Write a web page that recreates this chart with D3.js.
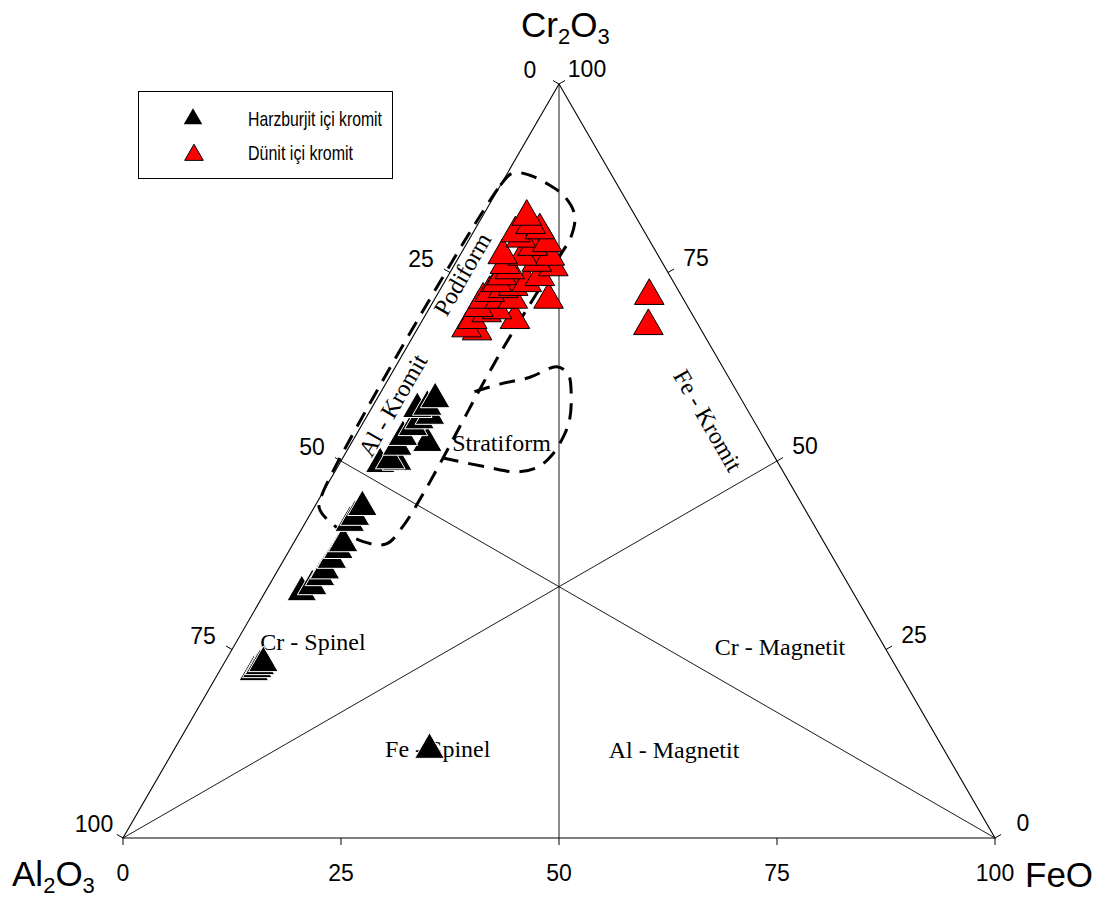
<!DOCTYPE html>
<html>
<head>
<meta charset="utf-8">
<script src="https://cdnjs.cloudflare.com/ajax/libs/d3/7.8.5/d3.min.js"></script>
<style>
body { margin: 0; background: #fff; }
svg { display: block; }
</style>
</head>
<body>
<script>
// every composition is [Cr2O3, Al2O3, FeO] in %
const tickValues = [0, 25, 50, 75, 100];
const tickLabels = ["0", "25", "50", "75", "100"];

const seriesNames = ["Harzburjit içi kromit", "Dünit içi kromit"];

const harzburjitPoints = [
    [58.2, 35.1, 6.7], [57.2, 36.5, 6.3], [56.9, 37.8, 5.3], [55.4, 38.3, 6.3],
    [54.5, 39.5, 6.0], [52.4, 38.9, 8.7], [53.2, 41.3, 5.5], [51.9, 42.6, 5.5],
    [50.1, 44.3, 5.6], [49.6, 45.7, 4.7], [49.9, 43.6, 6.5], [56.0, 36.8, 7.2],
    [43.9, 50.6, 5.5], [42.6, 52.1, 5.3], [41.8, 53.1, 5.1], [39.1, 55.2, 5.7],
    [38.2, 56.2, 5.6], [36.9, 57.6, 5.5], [35.5, 59.1, 5.4], [34.6, 60.1, 5.3],
    [33.4, 61.6, 5.0], [32.6, 63.2, 4.2],
    [22.0, 74.0, 4.0], [22.4, 73.4, 4.2], [22.8, 72.9, 4.3], [23.2, 72.3, 4.5],
    [11.7, 59.0, 29.3]
];

const dunitPoints = [
    [82.4, 12.5, 5.1], [80.2, 14.9, 4.9], [77.3, 17.8, 4.9], [80.6, 11.9, 7.5],
    [78.9, 11.9, 9.2], [77.1, 12.5, 10.4], [78.4, 13.8, 7.8], [77.1, 15.6, 7.3],
    [75.3, 18.0, 6.7], [73.6, 20.3, 6.1], [72.3, 21.8, 5.9], [71.4, 23.0, 5.6],
    [70.3, 24.1, 5.6], [68.7, 25.6, 5.7], [67.6, 26.8, 5.6], [67.2, 25.8, 7.0],
    [73.1, 18.7, 8.2], [73.6, 16.9, 9.5], [74.4, 15.0, 10.6], [71.4, 21.1, 7.5],
    [71.4, 19.6, 9.0], [71.4, 15.5, 13.1], [68.7, 20.7, 10.6], [69.6, 23.5, 6.9],
    [70.0, 22.1, 7.9], [75.7, 12.8, 11.5], [76.3, 14.4, 9.3], [79.5, 14.6, 5.9],
    [76.0, 18.2, 5.8], [74.5, 19.3, 6.2], [72.8, 20.0, 7.2], [81.3, 12.6, 6.1],
    [71.9, 3.7, 24.4], [67.9, 5.8, 26.3]
];

// field boundaries (dashed)
const podiformField = [
    [45.9, 54.1, 0], [86.6, 13.4, 0], [88.2, 11.2, 0.6], [87.9, 9.4, 2.7],
    [86.7, 7.9, 5.4], [85.0, 6.8, 8.2], [82.6, 6.9, 10.5], [79.8, 8.7, 11.5],
    [77.2, 11.3, 11.5], [63.7, 25.2, 11.1], [45.8, 42.6, 11.6], [41.1, 47.5, 11.4],
    [39.0, 50.3, 10.7], [39.3, 52.8, 7.9], [41.5, 55.1, 3.4], [43.8, 55.6, 0.6]
];

const stratiformField = [
    [59.2, 30.1, 10.7], [60.2, 26.7, 13.1], [61.1, 22.8, 16.1], [62.5, 19.0, 18.5],
    [61.5, 18.2, 20.3], [58.8, 19.2, 22.0], [55.4, 21.1, 23.5], [53.1, 23.0, 23.9],
    [50.8, 25.4, 23.8], [49.2, 27.8, 23.0], [48.5, 30.4, 21.0], [49.2, 33.7, 17.1],
    [50.4, 38.1, 11.5]
];

const fieldNames = ["Cr - Spinel", "Cr - Magnetit", "Fe - Spinel", "Al - Magnetit",
    "Stratiform", "Podiform", "Al - Kromit", "Fe - Kromit"];

const sansFont = "Arial, 'Liberation Sans', sans-serif";
const serifFont = "'Times New Roman', 'Liberation Serif', serif";

const svg = d3.select("body")
    .append("svg")
    .attr("width", 1104)
    .attr("height", 905);

// cartesian scales behind the ternary
const xScale = d3.scaleLinear().domain([0, 100]).range([123, 995]);
const yScale = d3.scaleLinear().domain([0, 100]).range([838, 84]);

function project(d) {
    const total = d[0] + d[1] + d[2];
    const cr = d[0] / total * 100;
    const fe = d[2] / total * 100;
    return [xScale(fe + cr / 2), yScale(cr)];
}

const lineGen = d3.line().x(d => project(d)[0]).y(d => project(d)[1]);

// medians
const medians = [
    [[100, 0, 0], [0, 50, 50]],
    [[0, 100, 0], [50, 0, 50]],
    [[0, 0, 100], [50, 50, 0]]
];
svg.append("g").selectAll("path")
    .data(medians)
    .enter()
    .append("path")
    .attr("d", lineGen)
    .attr("fill", "none")
    .attr("stroke", "#000")
    .attr("stroke-width", 0.9);

// outer triangle
svg.append("path")
    .attr("d", lineGen([[100, 0, 0], [0, 100, 0], [0, 0, 100], [100, 0, 0]]))
    .attr("fill", "none")
    .attr("stroke", "#000")
    .attr("stroke-width", 1.1);

// axes: Al2O3 on the left side, FeO on the bottom, Cr2O3 on the right side
const axes = [
    {comp: v => [100 - v, v, 0], normal: [-0.866, -0.5], offset: [-29, -14]},
    {comp: v => [0, 100 - v, v], normal: [0, 1], offset: [0, 35]},
    {comp: v => [v, 0, 100 - v], normal: [0.866, -0.5], offset: [28, -15]}
];

axes.forEach(axis => {
    const g = svg.append("g");
    g.selectAll("line")
        .data(tickValues)
        .enter()
        .append("line")
        .attr("x1", v => project(axis.comp(v))[0])
        .attr("y1", v => project(axis.comp(v))[1])
        .attr("x2", v => project(axis.comp(v))[0] + axis.normal[0] * 7)
        .attr("y2", v => project(axis.comp(v))[1] + axis.normal[1] * 7)
        .attr("stroke", "#000")
        .attr("stroke-width", 1);
    g.selectAll("text")
        .data(tickValues)
        .enter()
        .append("text")
        .attr("x", v => project(axis.comp(v))[0] + axis.offset[0])
        .attr("y", v => project(axis.comp(v))[1] + axis.offset[1])
        .attr("dy", "0.36em")
        .attr("text-anchor", "middle")
        .style("font-family", sansFont)
        .style("font-size", "23px")
        .text((v, i) => tickLabels[i]);
});

// axis titles, subscripts shifted down
function oxide(x, y, parts) {
    const t = svg.append("text")
        .attr("x", x).attr("y", y)
        .style("font-family", sansFont)
        .style("font-size", "35px");
    let shifted = false;
    parts.forEach(p => {
        const span = t.append("tspan").text(p.s);
        if (p.sub) {
            span.attr("dy", 7).style("font-size", "22px");
            shifted = true;
        } else if (shifted) {
            span.attr("dy", -7);
            shifted = false;
        }
    });
}
oxide(521, 37, [{s: "Cr"}, {s: "2", sub: true}, {s: "O"}, {s: "3", sub: true}]);
oxide(12, 886, [{s: "Al"}, {s: "2", sub: true}, {s: "O"}, {s: "3", sub: true}]);
oxide(1025, 887, [{s: "FeO"}]);

// dashed field outlines
svg.append("path")
    .attr("d", d3.line().curve(d3.curveCatmullRomClosed)
        .x(d => project(d)[0]).y(d => project(d)[1])(podiformField))
    .attr("fill", "none")
    .attr("stroke", "#000")
    .attr("stroke-width", 3)
    .attr("stroke-dasharray", "16,10");

svg.append("path")
    .attr("d", d3.line().curve(d3.curveCatmullRom)
        .x(d => project(d)[0]).y(d => project(d)[1])(stratiformField))
    .attr("fill", "none")
    .attr("stroke", "#000")
    .attr("stroke-width", 3)
    .attr("stroke-dasharray", "16,10");

// field names
const fieldPlaces = [
    {comp: [24.9, 71.8, 3.3], rot: 0, anchor: "start"},
    {comp: [24.3, 20.0, 55.7], rot: 0, anchor: "start"},
    {comp: [10.7, 64.6, 24.7], rot: 0, anchor: "start"},
    {comp: [10.6, 39.0, 50.4], rot: 0, anchor: "start"},
    {comp: [51.3, 36.6, 12.1], rot: 0, anchor: "start"},
    {comp: [74.8, 23.7, 1.5], rot: -60, anchor: "middle"},
    {comp: [57.4, 40.4, 2.2], rot: -60, anchor: "middle"},
    {comp: [55.4, 5.2, 39.4], rot: 60, anchor: "middle"}
];
svg.append("g").selectAll("text")
    .data(fieldPlaces)
    .enter()
    .append("text")
    .attr("transform", d => {
        const p = project(d.comp);
        return "translate(" + p[0] + "," + p[1] + ")rotate(" + d.rot + ")";
    })
    .attr("dy", d => d.rot === 0 ? 0 : "0.35em")
    .attr("text-anchor", d => d.anchor)
    .style("font-family", serifFont)
    .style("font-size", "24px")
    .text((d, i) => fieldNames[i]);

// markers
const triangle = d3.symbol().type(d3.symbolTriangle).size(380);

svg.append("g").selectAll("path")
    .data(harzburjitPoints.slice().sort((a, b) => a[0] - b[0]))
    .enter()
    .append("path")
    .attr("d", triangle)
    .attr("transform", d => "translate(" + project(d) + ")")
    .attr("fill", "#000")
    .attr("stroke", "#fff")
    .attr("stroke-width", 1);

svg.append("g").selectAll("path")
    .data(dunitPoints.slice().sort((a, b) => a[0] - b[0]))
    .enter()
    .append("path")
    .attr("d", triangle)
    .attr("transform", d => "translate(" + project(d) + ")")
    .attr("fill", "#ff0000")
    .attr("stroke", "#000")
    .attr("stroke-width", 1);

// legend
const legend = svg.append("g");
legend.append("rect")
    .attr("x", 138.5).attr("y", 91.5)
    .attr("width", 254).attr("height", 87)
    .attr("fill", "#fff")
    .attr("stroke", "#000")
    .attr("stroke-width", 1);

const legendSymbol = d3.symbol().type(d3.symbolTriangle).size(150);
legend.append("path")
    .attr("d", legendSymbol)
    .attr("transform", "translate(193,119)")
    .attr("fill", "#000");
legend.append("path")
    .attr("d", legendSymbol)
    .attr("transform", "translate(194,155)")
    .attr("fill", "#ff0000")
    .attr("stroke", "#000")
    .attr("stroke-width", 1);

legend.append("text")
    .attr("x", 248).attr("y", 126)
    .attr("textLength", 134)
    .attr("lengthAdjust", "spacingAndGlyphs")
    .style("font-family", sansFont)
    .style("font-size", "21px")
    .text(seriesNames[0]);
legend.append("text")
    .attr("x", 248).attr("y", 160)
    .attr("textLength", 105)
    .attr("lengthAdjust", "spacingAndGlyphs")
    .style("font-family", sansFont)
    .style("font-size", "21px")
    .text(seriesNames[1]);
</script>
</body>
</html>
